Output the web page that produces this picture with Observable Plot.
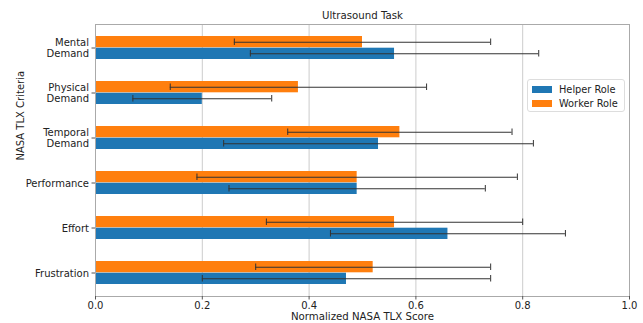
<!DOCTYPE html>
<html>
<head>
<meta charset="utf-8">
<script src="https://cdn.jsdelivr.net/npm/d3@7"></script>
<script src="https://cdn.jsdelivr.net/npm/@observablehq/plot@0.6"></script>
<style>
  body { margin: 0; background: #fff; }
  #wrap { position: relative; width: 643px; height: 323px; font-family: "DejaVu Sans", sans-serif; }
  .legend { position: absolute; left: 527px; top: 79px; width: 96px; height: 31px; border: 1px solid #ddd; border-radius: 3px; background: #fff; font-size: 9.8px; color: #222; }
  .legend .row { position: absolute; left: 4px; height: 14px; display: flex; align-items: center; }
  .legend .sw { width: 20px; height: 7px; margin-right: 7px; }
</style>
</head>
<body>
<div id="wrap"></div>
<script>
const categories = ["Mental\nDemand", "Physical\nDemand", "Temporal\nDemand", "Performance", "Effort", "Frustration"];
const roles = ["Helper Role", "Worker Role"];
const roleColors = ["#1f77b4", "#ff7f0e"];
const helperMean = [0.56, 0.20, 0.53, 0.49, 0.66, 0.47];
const helperLo   = [0.29, 0.07, 0.24, 0.25, 0.44, 0.20];
const helperHi   = [0.83, 0.33, 0.82, 0.73, 0.88, 0.74];
const workerMean = [0.50, 0.38, 0.57, 0.49, 0.56, 0.52];
const workerLo   = [0.26, 0.14, 0.36, 0.19, 0.32, 0.30];
const workerHi   = [0.74, 0.62, 0.78, 0.79, 0.80, 0.74];
const xTicks = [0, 0.2, 0.4, 0.6, 0.8, 1.0];
const title = "Ultrasound Task";
const xLabel = "Normalized NASA TLX Score";
const yLabel = "NASA TLX Criteria";

const helper = categories.map((c, i) => ({cat: c, mean: helperMean[i], lo: helperLo[i], hi: helperHi[i]}));
const worker = categories.map((c, i) => ({cat: c, mean: workerMean[i], lo: workerLo[i], hi: workerHi[i]}));

const errColor = "#333";
const chart = Plot.plot({
  width: 643,
  height: 323,
  marginTop: 24,
  marginBottom: 27,
  marginLeft: 95,
  marginRight: 14,
  style: {fontFamily: "DejaVu Sans, sans-serif", fontSize: "10px", color: "#222", background: "#fff"},
  x: {domain: [0, 1]},
  y: {domain: categories, padding: 0},
  marks: [
    Plot.gridX(xTicks.slice(1, -1), {stroke: "#ccc", strokeOpacity: 1, strokeWidth: 1}),
    Plot.barX(worker, {x: "mean", y: "cat", fill: roleColors[1], insetTop: 11, insetBottom: 22.7}),
    Plot.barX(helper, {x: "mean", y: "cat", fill: roleColors[0], insetTop: 22.7, insetBottom: 11}),
    Plot.ruleY(worker, {y: "cat", x1: "lo", x2: "hi", stroke: errColor, strokeWidth: 1.1, dy: -5.7}),
    Plot.ruleY(helper, {y: "cat", x1: "lo", x2: "hi", stroke: errColor, strokeWidth: 1.1, dy: 5.7}),
    Plot.tickX(worker, {x: "lo", y: "cat", stroke: errColor, insetTop: 13.5, insetBottom: 25}),
    Plot.tickX(worker, {x: "hi", y: "cat", stroke: errColor, insetTop: 13.5, insetBottom: 25}),
    Plot.tickX(helper, {x: "lo", y: "cat", stroke: errColor, insetTop: 25, insetBottom: 13.5}),
    Plot.tickX(helper, {x: "hi", y: "cat", stroke: errColor, insetTop: 25, insetBottom: 13.5}),
    Plot.frame({stroke: "#aaa", strokeWidth: 1}),
    Plot.axisX({ticks: xTicks, tickFormat: d3.format(".1f"), tickSize: 3.5, tickPadding: 2, label: null, stroke: "#555"}),
    Plot.axisY({tickSize: 3.5, tickPadding: 3, label: null, stroke: "#555", lineHeight: 1.13}),
    Plot.text([title], {frameAnchor: "top", lineAnchor: "middle", dy: -9, fontSize: 10.2, fill: "#222"}),
    Plot.text([xLabel], {frameAnchor: "bottom", lineAnchor: "middle", dy: 20, fontSize: 10.2, fill: "#222"}),
    Plot.text([yLabel], {frameAnchor: "left", dx: -75, rotate: -90, fontSize: 10, fill: "#222"})
  ]
});
const wrap = document.getElementById("wrap");
wrap.appendChild(chart);

const legend = document.createElement("div");
legend.className = "legend";
roles.forEach((r, i) => {
  const row = document.createElement("div");
  row.className = "row";
  row.style.top = (2 + i * 14) + "px";
  const sw = document.createElement("div");
  sw.className = "sw";
  sw.style.background = roleColors[i];
  const t = document.createElement("span");
  t.textContent = r;
  row.appendChild(sw);
  row.appendChild(t);
  legend.appendChild(row);
});
wrap.appendChild(legend);
</script>
</body>
</html>
